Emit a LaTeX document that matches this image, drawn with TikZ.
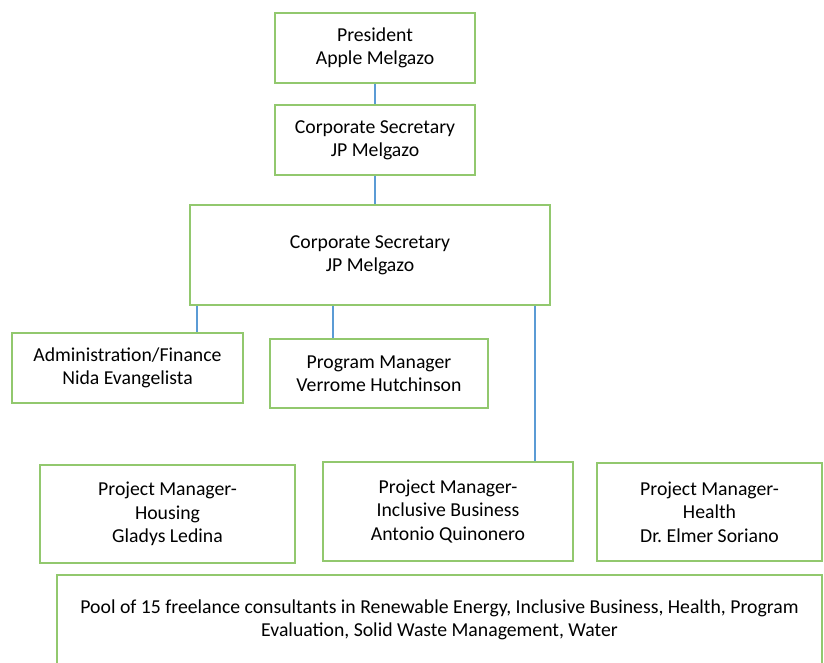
\documentclass[tikz,border=0pt]{standalone}
\usepackage{fontspec}
\setmainfont{Carlito}
\usepackage{tikz}
\usepackage{color}

\definecolor{boxgreen}{RGB}{146,200,110}
\definecolor{linkblue}{RGB}{91,155,213}

\begin{document}
\begin{tikzpicture}[x=0.75pt,y=-0.75pt]
						\tikzstyle{every node}+=[inner sep=0pt]
						\tikzstyle{post}=[draw=boxgreen,line width=1.1pt,fill=white,align=center,font=\fontsize{14.8}{17.5}\selectfont]
						\tikzstyle{link}=[draw=linkblue,line width=2pt]
						\useasboundingbox (0,0) rectangle (824,662);
						\node [post,minimum width=150pt,minimum height=52.5pt] (pres) at (375,48) {President\\Apple Melgazo};
						\node [post,minimum width=150pt,minimum height=52.5pt] (sec) at (375,140) {Corporate Secretary\\JP Melgazo};
						\node [post,minimum width=270pt,minimum height=75pt] (board) at (370,255) {Corporate Secretary\\JP Melgazo};
						\node [post,minimum width=173.25pt,minimum height=52.5pt] (admin) at (127.5,368) {Administration/Finance\\Nida Evangelista};
						\node [post,minimum width=163.5pt,minimum height=51.75pt] (prog) at (379,373.5) {Program Manager\\Verrome Hutchinson};
						\node [post,minimum width=191.25pt,minimum height=73.5pt] (housing) at (167.5,514) {Project Manager-\\Housing\\Gladys Ledina};
						\node [post,minimum width=187.5pt,minimum height=74.25pt] (inclusive) at (448,511.5) {Project Manager-\\Inclusive Business\\Antonio Quinonero};
						\node [post,minimum width=168.75pt,minimum height=73.5pt] (health) at (709.5,512) {Project Manager-\\Health\\Dr.\ Elmer Soriano};
						\node [post,minimum width=573.75pt,minimum height=67.5pt] (pool) at (439.5,620) {Pool of 15 freelance consultants in Renewable Energy, Inclusive Business, Health, Program\\Evaluation, Solid Waste Management, Water};
						\draw [link] (pres.south) -- (sec.north);
						\draw [link] (sec.south) -- (board.north -| sec.south);
						\draw [link] (board.south -| 197,0) -- (admin.north -| 197,0);
						\draw [link] (board.south -| 333,0) -- (prog.north -| 333,0);
						\draw [link] (board.south -| 535,0) -- (inclusive.north -| 535,0);
					\end{tikzpicture}
\end{document}
